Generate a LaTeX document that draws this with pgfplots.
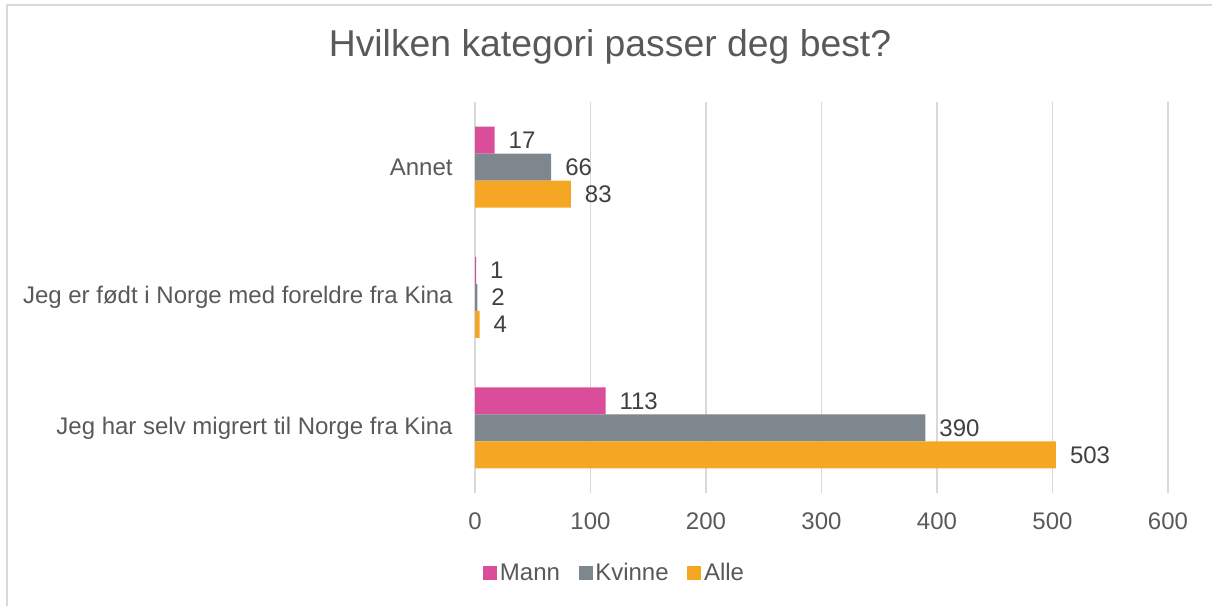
\documentclass[border=0pt]{standalone}
\usepackage{pgfplots}
\pgfplotsset{compat=1.18}
\usepackage{fontspec}
\setmainfont{Liberation Sans}
\definecolor{cMann}{RGB}{218,77,154}
\definecolor{cKvinne}{RGB}{125,135,141}
\definecolor{cAlle}{RGB}{245,166,35}
\definecolor{gridc}{RGB}{217,217,217}
\definecolor{txt}{RGB}{89,89,89}
\definecolor{dtxt}{RGB}{64,64,64}
\begin{document}
\begin{tikzpicture}[x=1pt,y=1pt]
\path[use as bounding box] (0,0) rectangle (909,454.5);
\draw[gridc,line width=1.5pt] (4.9,0) -- (4.9,450.4) -- (909,450.4);
\node[font=\fontsize{28}{32}\selectfont,text=txt] at (457.5,419) {Hvilken kategori passer deg best?};
\begin{axis}[
  at={(356.25pt,84.75pt)}, anchor=south west,
  scale only axis, width=519.75pt, height=293.25pt,
  xbar, bar width=20.25pt,
  xmin=0, xmax=600, ymin=-0.5, ymax=2.5,
  xtick={0,100,...,600},
  ytick={0,1,2},
  yticklabels={Jeg har selv migrert til Norge fra Kina, Jeg er født i Norge med foreldre fra Kina, Annet},
  xmajorgrids, grid style={gridc,line width=1pt},
  axis line style={draw=none},
  tick style={draw=none},
  /pgf/number format/assume math mode=true,
  ticklabel style={font=\fontsize{18}{21}\selectfont,text=txt},
  xticklabel style={yshift=-11pt},
  yticklabel style={xshift=-9pt},
  nodes near coords,
  every node near coord/.append style={font=\fontsize{18}{21}\selectfont,text=dtxt,anchor=west,xshift=7pt},
  legend columns=3,
  legend style={at={(0.202,-0.205)},anchor=center,draw=none,font=\fontsize{18}{21}\selectfont,text=txt,
    /tikz/every even column/.append style={column sep=12pt}},
  legend image code/.code={\fill[#1] (0pt,-5.25pt) rectangle (10.5pt,5.25pt);},
]
\addplot[fill=cMann,draw=none,bar shift=20.25pt] coordinates {(113,0) (1,1) (17,2)};
\addplot[fill=cKvinne,draw=none,bar shift=0pt] coordinates {(390,0) (2,1) (66,2)};
\addplot[fill=cAlle,draw=none,bar shift=-20.25pt] coordinates {(503,0) (4,1) (83,2)};
\legend{Mann,Kvinne,Alle}
\end{axis}
\end{tikzpicture}
\end{document}
